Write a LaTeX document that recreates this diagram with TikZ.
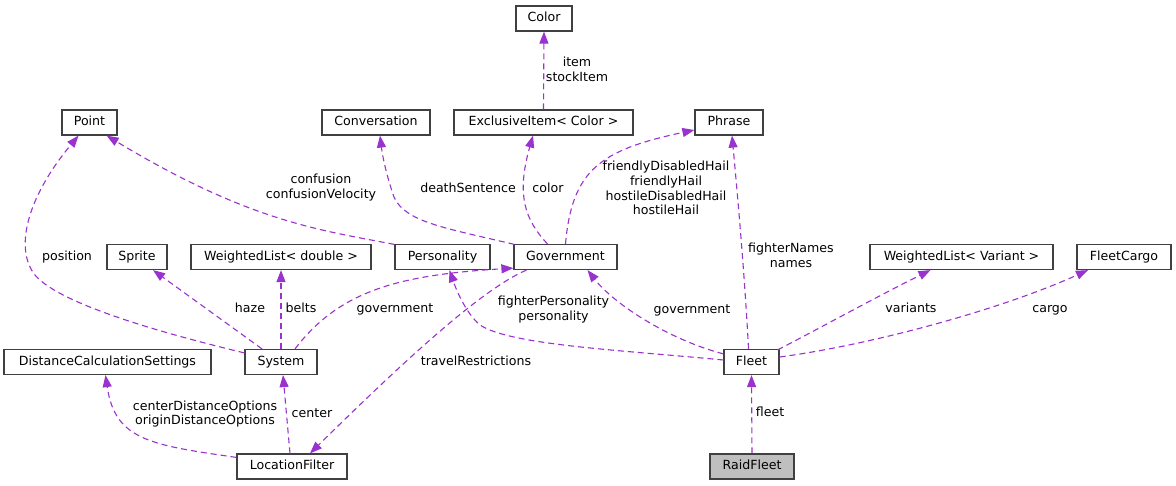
\documentclass[tikz,border=0pt]{standalone}
\usepackage{fontspec}
\setmainfont{DejaVu Sans}
\usetikzlibrary{arrows.meta,calc}
\definecolor{edgec}{HTML}{9A32CD}
\definecolor{boxc}{HTML}{404040}
\definecolor{fillg}{HTML}{BFBFBF}
\begin{document}
\begin{tikzpicture}[x=1pt,y=-1pt,
  every node/.style={font=\fontsize{12.6}{14.8}\selectfont},
  cls/.style={draw=boxc,line width=1.2pt,fill=white,minimum height=25pt,inner sep=0pt,text height=9.3pt,text depth=2.4pt},
  main/.style={cls,fill=fillg},
  uses/.style={draw=edgec,line width=1.1pt,dash pattern=on 6pt off 4pt,-{Triangle[length=12pt,width=9pt,fill=edgec]}},
  lbl/.style={inner sep=0pt,text height=9.3pt,text depth=2.4pt},
  mlbl/.style={inner sep=0pt,align=center}]
\useasboundingbox (0,0) rectangle (1176,485);
\fill[white] (0,0) rectangle (1176,485);
% nodes
\node[cls,minimum width=56pt]  (color) at (544,18.5) {Color};
\node[cls,minimum width=179pt] (excl)  at (543.5,122.5) {ExclusiveItem< Color >};
\node[cls,minimum width=55pt]  (point) at (89.5,122.5) {Point};
\node[cls,minimum width=108pt] (conv)  at (376,122.5) {Conversation};
\node[cls,minimum width=68pt]  (phrase) at (729,122.5) {Phrase};
\node[cls,minimum width=60pt]  (sprite) at (137,257) {Sprite};
\node[cls,minimum width=180pt] (wld)   at (281,257) {WeightedList< double >};
\node[cls,minimum width=95pt]  (pers)  at (442.5,257) {Personality};
\node[cls,minimum width=103pt] (gov)   at (565.5,257) {Government};
\node[cls,minimum width=183pt] (wlv)   at (961.5,257) {WeightedList< Variant >};
\node[cls,minimum width=94pt]  (cargo) at (1124,257) {FleetCargo};
\node[cls,minimum width=207pt] (dcs)   at (107.5,362) {DistanceCalculationSettings};
\node[cls,minimum width=72pt]  (sys)   at (281,362) {System};
\node[cls,minimum width=55pt]  (fleet) at (751.5,362) {Fleet};
\node[cls,minimum width=110pt] (locf)  at (292,466.5) {LocationFilter};
\node[main,minimum width=84pt] (raid)  at (752,466.5) {RaidFleet};
% edges
\draw[uses] (excl.north) -- (color.south);
\node[mlbl] (l1) at (577,69.5) {item\\stockItem};
\draw[uses] ($(gov.north west)+(1,0.5)$) .. controls (445,228) and (405,222) .. (394,197) .. controls (388,180) and (383,160) .. ($(conv.south)+(4,0)$);
\node[lbl] (l2) at (468,189) {deathSentence};
\draw[uses] ($(gov.north)+(-18,0)$) .. controls (525,220) and (516,195) .. ($(excl.south)+(-10.5,0)$);
\node[lbl] (l3) at (548,189) {color};
\draw[uses] (gov.north) .. controls (572,170) and (600,150) .. ($(phrase.west)+(0,7.5)$);
\node[mlbl] (l4) at (666,188) {friendlyDisabledHail\\friendlyHail\\hostileDisabledHail\\hostileHail};
\draw[uses] ($(pers.north west)+(0,0.5)$) .. controls (320,230) and (250,222) .. ($(point.south east)+(-11,0)$);
\node[mlbl] (l5) at (321,187.5) {confusion\\confusionVelocity};
\draw[uses] ($(sys.north west)+(0,4)$) .. controls (170,335) and (60,305) .. (35,275) .. controls (15,250) and (25,200) .. ($(point.south)+(-11,0)$);
\node[lbl] (l6) at (67,257) {position};
\draw[uses] ($(sys.north)+(-19,0)$) -- ($(sprite.south)+(16,0)$);
\node[lbl] (l7) at (250,309) {haze};
\draw[uses] (sys.north) -- (wld.south);
\node[lbl] (l8) at (301,309) {belts};
\draw[uses] ($(sys.north)+(14,0)$) .. controls (340,290) and (400,275) .. ($(gov.south west)+(0,-2)$);
\node[lbl] (l9) at (395,309) {government};
\draw[uses] ($(gov.south west)+(13,0)$) .. controls (480,290) and (400,365) .. ($(locf.north)+(18,0)$);
\node[lbl] (l10) at (476,362) {travelRestrictions};
\draw[uses] ($(locf.north)+(-2,0)$) -- ($(sys.south)+(2,0)$);
\node[lbl] (l11) at (312,414) {center};
\draw[uses] ($(locf.north west)+(0,4)$) .. controls (150,445) and (115,440) .. ($(dcs.south)+(-2,0)$);
\node[mlbl] (l12) at (205,414) {centerDistanceOptions\\originDistanceOptions};
\draw[uses] ($(fleet.west)+(0,-2)$) .. controls (620,350) and (510,345) .. (480,325) .. controls (468,315) and (458,295) .. ($(pers.south)+(7,0)$);
\node[mlbl] (l13) at (553.5,309.5) {fighterPersonality\\personality};
\draw[uses] ($(fleet.north west)+(0,5)$) .. controls (670,340) and (615,305) .. ($(gov.south)+(22,0)$);
\node[lbl] (l14) at (692,310) {government};
\draw[uses] ($(fleet.north)+(-3,0)$) .. controls (745,280) and (738,200) .. ($(phrase.south)+(3,0)$);
\node[mlbl] (l15) at (791,255.5) {fighterNames\\names};
\draw[uses] ($(fleet.north east)+(-2,1)$) .. controls (820,328) and (880,295) .. ($(wlv.south)+(-31,0)$);
\node[lbl] (l16) at (911,309) {variants};
\draw[uses] ($(fleet.east)+(0,-5)$) .. controls (870,345) and (1000,310) .. ($(cargo.south)+(-36,0)$);
\node[lbl] (l17) at (1050,309) {cargo};
\draw[uses] (raid.north) -- (fleet.south);
\node[lbl] (l18) at (770,413) {fleet};
\end{tikzpicture}
\end{document}
